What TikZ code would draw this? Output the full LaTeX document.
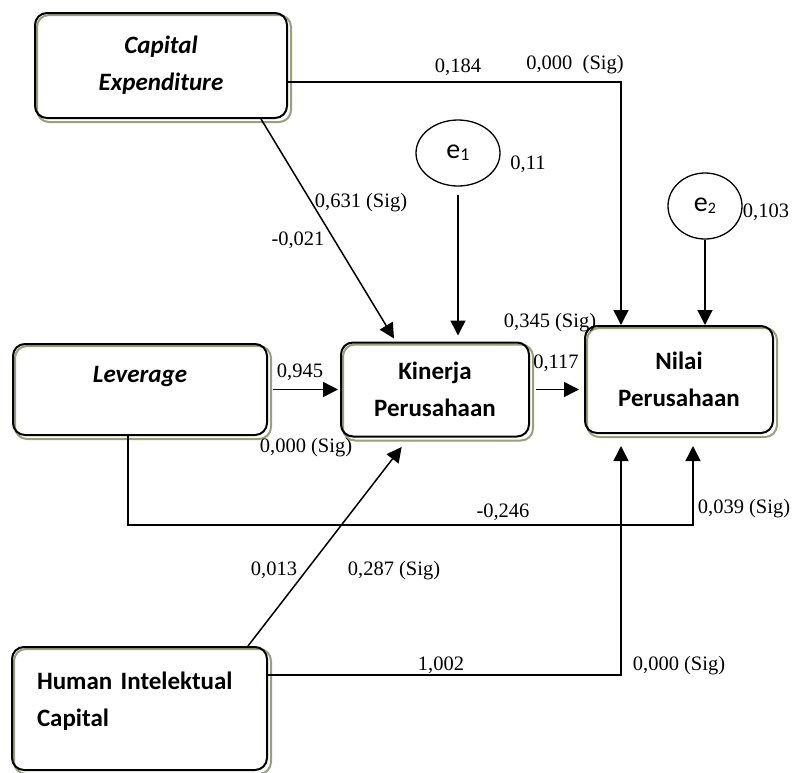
\documentclass[tikz,border=0pt]{standalone}
\usepackage{fontspec}
\setmainfont{Liberation Serif}
\newfontfamily\calibrifont{Carlito}
\usepackage{tikz}
\usetikzlibrary{arrows.meta,positioning,shapes.geometric,backgrounds}
\definecolor{shadowgreen}{RGB}{150,160,122}

\tikzset{
  varbox/.style={draw, rounded corners=12pt, line width=2pt, align=center,
    font=\calibrifont\bfseries\fontsize{25}{37}\selectfont},
  boxshadow/.style={draw=shadowgreen, rounded corners=12pt, line width=2pt},
  errnode/.style={draw, ellipse, line width=1.3pt, inner sep=0pt,
    font=\calibrifont\fontsize{28}{30}\selectfont},
  coef/.style={font=\fontsize{20.5}{24}\selectfont, inner sep=0pt, text height=14pt, text depth=0pt},
  arr/.style={-{Triangle[length=15pt,width=15pt]}, line width=1.5pt},
}

\begin{document}
\begin{tikzpicture}[x=1pt, y=-1pt]
  \useasboundingbox (0,0) rectangle (793,772);

  % Variables
  \node[varbox, minimum width=252pt, minimum height=105pt] (ce) at (161,65.5) {\textit{Capital}\\\textit{Expenditure}};
  \node[varbox, minimum width=254pt, minimum height=91pt, text depth=30pt] (lev) at (140,389.5) {\textit{Leverage}};
  \node[varbox, minimum width=188pt, minimum height=94pt, right=72pt of lev] (kp) {Kinerja\\Perusahaan};
  \node[varbox, minimum width=188pt, minimum height=107pt] (np) at (679,379.5) {Nilai\\Perusahaan};
  \node[varbox, minimum width=255pt, minimum height=123pt, align=left, text width=205pt, text depth=55pt] (hic) at (139.5,708.5) {Human Intelektual\\Capital};

  % green shadow behind each box
  \begin{scope}[on background layer]
    \foreach \b in {ce,lev,kp,np,hic}
      \draw[boxshadow] ([shift={(3,3)}]\b.north west) rectangle ([shift={(3,3)}]\b.south east);
  \end{scope}

  % Error terms
  \node[errnode, minimum width=84pt, minimum height=66pt] (e1) at (458,153) {e{\fontsize{18}{20}\selectfont\raisebox{-2pt}{1}}};
  \node[errnode, minimum width=74pt, minimum height=66pt] (e2) at (705,206) {e{\fontsize{16}{20}\selectfont\raisebox{-2pt}{2}}};

  % Paths
  \draw[arr] ([yshift=-16.5pt]ce.east) -| ([xshift=-58pt]np.north);
  \draw[arr] ([xshift=100pt]ce.south) -- ([xshift=-41pt,yshift=3pt]kp.north);
  \draw[arr, shorten <=8pt, shorten >=6pt] (e1) -- (e1 |- kp.north);
  \draw[arr] (e2) -- (e2 |- np.north);
  \draw[arr, shorten <=5pt, shorten >=2pt] (lev.east) -- (kp.west);
  \draw[arr, shorten <=6pt, shorten >=5pt] (kp.east) -- (kp.east -| np.west);
  \draw[arr, shorten >=12pt] ([xshift=-12pt]lev.south) -- ++(0,89) -| ([xshift=14pt]np.south);
  \draw[arr, shorten >=12pt] ([xshift=108.5pt]hic.north) -- ([xshift=-26pt]kp.south);
  \draw[arr, shorten >=12pt] ([yshift=33.5pt]hic.east) -| ([xshift=-58pt]np.south);

  % Coefficients
  \node[coef] (c184) at (458,65) {0,184};
  \node[coef] (s184) at (575,62) {0,000\ \ (Sig)};
  \node[coef] (c631) at (361,200) {0,631 (Sig)};
  \node[coef] (c021) at (298,238) {-0,021};
  \node[coef] (c345) at (550,320) {0,345 (Sig)};
  \node[coef] (c117) at (556,361) {0,117};
  \node[coef] (c945) at (300,370) {0,945};
  \node[coef] (s945) at (306,445) {0,000 (Sig)};
  \node[coef] (c246) at (503,510) {-0,246};
  \node[coef] (s246) at (744,506) {0,039 (Sig)};
  \node[coef] (c013) at (274,568) {0,013};
  \node[coef] (s013) at (394,568) {0,287 (Sig)};
  \node[coef] (c002) at (441,663) {1,002};
  \node[coef] (s002) at (679,663) {0,000 (Sig)};
  \node[coef] (r1) at (528,162) {0,11};
  \node[coef] (r2) at (766,210) {0,103};
\end{tikzpicture}
\end{document}
